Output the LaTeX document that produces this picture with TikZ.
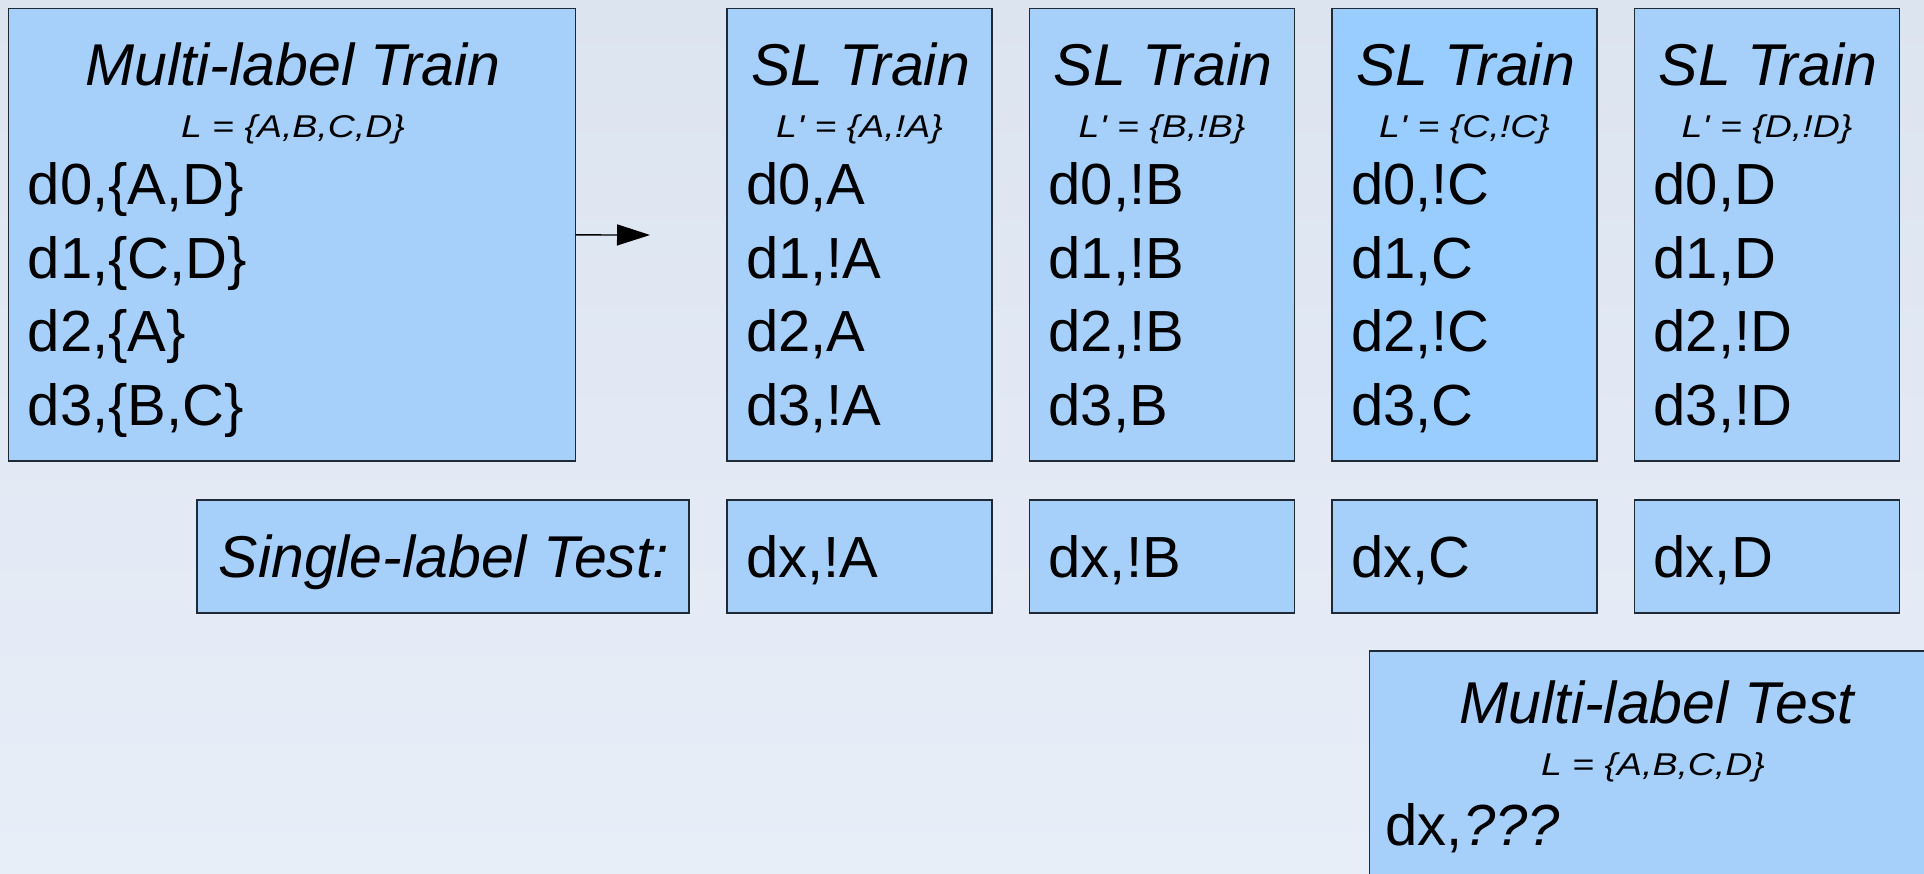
\documentclass[tikz,border=0pt]{standalone}
\usepackage{fontspec}
\setmainfont{Liberation Sans}
\usetikzlibrary{arrows.meta}

\definecolor{bgtop}{HTML}{DCE4F0}
\definecolor{bgbot}{HTML}{E8EEF8}
\definecolor{boxfill}{HTML}{A6CFFA}
\definecolor{boxfillalt}{HTML}{99CCFF}
\definecolor{boxline}{HTML}{1E2A36}

\tikzset{
  panel/.style={draw=boxline, line width=1.3pt, fill=boxfill, anchor=north west,
    inner sep=0pt, outer sep=0pt},
  headtext/.style={anchor=base, inner sep=0pt, font=\fontsize{59}{61}\selectfont\itshape},
  subtext/.style={anchor=base, inner sep=0pt, font=\fontsize{31.5}{33}\selectfont\itshape},
  rowtext/.style={anchor=base west, inner sep=0pt, font=\fontsize{58}{60}\selectfont},
  flow/.style={line width=1.3pt, -{Triangle[length=33pt,width=21pt]}},
}
\newcommand{\wideset}[1]{\scalebox{1.19}[1]{#1}}

\begin{document}
\begin{tikzpicture}[x=1pt, y=-1pt]
  % page background
  \shade[top color=bgtop, bottom color=bgbot] (0,0) rectangle (1924,874);
  \useasboundingbox (0,0) rectangle (1924,874);
  \clip (0,0) rectangle (1924,874);

  % multi-label training set
  \node[panel, minimum width=567pt, minimum height=452.5pt] (mltrain) at (8.6,8.6) {};
  \node[headtext] (mltitle) at (293,86) {Multi-label Train};
  \node[subtext] (mlset) at (293,138) {\wideset{L = \{A,B,C,D\}}};
  \node[rowtext] (mlr0) at (27.6,205) {d0,\{A,D\}};
  \node[rowtext] (mlr1) at (27.6,278.3) {d1,\{C,D\}};
  \node[rowtext] (mlr2) at (27.6,351.7) {d2,\{A\}};
  \node[rowtext] (mlr3) at (27.6,425) {d3,\{B,C\}};

  % transformation arrow
  \coordinate (arrowtip) at (650,235);
  \draw[flow] (mltrain.east) -- (arrowtip);

  % binary (single-label) training sets and their test predictions
  \foreach \n/\x/\fc/\L/\ra/\rb/\rc/\rd/\tx in {
      a/727/boxfill/A/A/!A/A/!A/!A,
      b/1029.5/boxfill/B/!B/!B/!B/B/!B,
      c/1332/boxfillalt/C/!C/C/!C/C/C,
      d/1634.5/boxfill/D/D/D/!D/!D/D} {
    \node[panel, fill=\fc, minimum width=265pt, minimum height=452.5pt] (sl\n) at (\x,8.6) {};
    \node[headtext] (sltitle\n) at (\x+133.5,86) {SL Train};
    \node[subtext] (slset\n) at (\x+132.5,138) {\wideset{L\textquotesingle\ = \{\L,!\L\}}};
    \node[rowtext] (slr0\n) at (\x+19,205) {d0,\ra};
    \node[rowtext] (slr1\n) at (\x+19,278.3) {d1,\rb};
    \node[rowtext] (slr2\n) at (\x+19,351.7) {d2,\rc};
    \node[rowtext] (slr3\n) at (\x+19,425) {d3,\rd};
    \node[panel, minimum width=265pt, minimum height=113pt] (test\n) at (\x,500) {};
    \node[rowtext] (testtext\n) at (\x+19,577) {dx,\tx};
  }

  % row caption
  \node[panel, minimum width=492pt, minimum height=113pt] (sltest) at (197,500) {};
  \node[headtext] (sltesttext) at (444,577) {Single-label Test:};

  % multi-label test instance
  \node[panel, minimum width=575pt, minimum height=260pt] (mltest) at (1369.6,651) {};
  \node[headtext] (mltesttitle) at (1657,723) {Multi-label Test};
  \node[subtext] (mltestset) at (1653,775) {\wideset{L = \{A,B,C,D\}}};
  \node[rowtext] (mltestrow) at (1385.5,845) {dx,\textit{???}};
\end{tikzpicture}
\end{document}
